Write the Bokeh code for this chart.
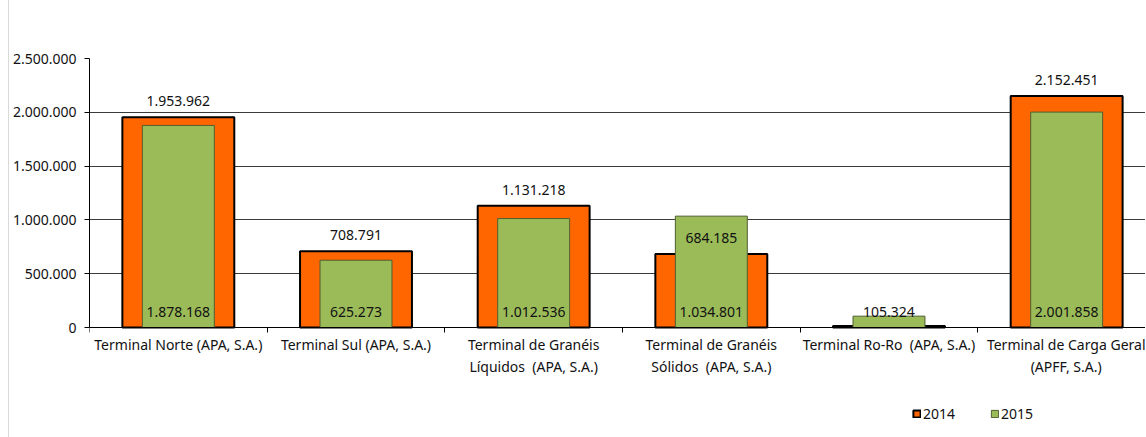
from bokeh.plotting import figure
from bokeh.models import (ColumnDataSource, Range1d, FixedTicker, LabelSet,
                          Legend, LegendItem)
from bokeh.core.properties import value
from bokeh.embed import file_html
from bokeh.resources import INLINE

categories = [
    "Terminal Norte (APA, S.A.)",
    "Terminal Sul (APA, S.A.)",
    "Terminal de Granéis\nLíquidos\u00a0 (APA, S.A.)",
    "Terminal de Granéis\nSólidos\u00a0 (APA, S.A.)",
    "Terminal Ro-Ro\u00a0 (APA, S.A.)",
    "Terminal de Carga Geral\n(APFF, S.A.)",
]
values_2014 = [1953962, 708791, 1131218, 684185, 15000, 2152451]
values_2015 = [1878168, 625273, 1012536, 1034801, 105324, 2001858]
y_ticks = [0, 500000, 1000000, 1500000, 2000000, 2500000]
series_names = ["2014", "2015"]

FONT = "Noto Sans"
ORANGE = "#FF6600"
GREEN = "#9BBB59"
TXT = "#111111"

# layout (pixels)
W, H = 1137, 437
LEFT, TOP = 78, 58
PLOT_H = 269          # pixels from value 0 up to the top tick
CAT_PX = 178          # pixels per category


def fmt(v):
    return f"{v:,}".replace(",", ".")


y_max = y_ticks[-1]
y_min = -y_max * (H - TOP - PLOT_H) / PLOT_H
x_end = (W - LEFT) / CAT_PX

xs = [i + 0.5 for i in range(len(categories))]
src = ColumnDataSource(dict(x=xs, v14=values_2014, v15=values_2015))
keep = [v >= 50000 for v in values_2014]
lab14 = ColumnDataSource(dict(
    x=[x for x, k in zip(xs, keep) if k],
    y=[v for v, k in zip(values_2014, keep) if k],
    t=[fmt(v) for v, k in zip(values_2014, keep) if k],
))
lab15 = ColumnDataSource(dict(
    x=xs,
    y=[0] * len(xs),
    t=[fmt(v) for v in values_2015],
))

p = figure(width=W, height=H, output_backend="svg", toolbar_location=None,
           x_range=Range1d(0, x_end), y_range=Range1d(y_min, y_max),
           min_border_left=LEFT, min_border_right=0, min_border_top=TOP,
           min_border_bottom=0)
p.outline_line_color = None
p.background_fill_color = "white"
p.border_fill_color = "white"

r14 = p.vbar(x="x", top="v14", width=0.63, source=src, fill_color=ORANGE,
             line_color="black", line_width=2)
r15 = p.vbar(x="x", top="v15", width=0.405, source=src, fill_color=GREEN,
             line_color="#4f5f30", line_width=1)

common = dict(text_font=value(FONT), text_font_size="14px", text_color=TXT,
              text_align="center", text_baseline="alphabetic")
p.add_layout(LabelSet(x="x", y="y", text="t", source=lab14, y_offset=11, **common))
p.add_layout(LabelSet(x="x", y="y", text="t", source=lab15, y_offset=11, **common))

# x axis drawn at value 0
p.xaxis.fixed_location = 0
p.xaxis.ticker = FixedTicker(ticks=xs, minor_ticks=list(range(len(categories) + 1)))
p.xaxis.major_label_overrides = {x: c for x, c in zip(xs, categories)}
p.xaxis.major_tick_out = 0
p.xaxis.major_tick_in = 0
p.xaxis.minor_tick_out = 5
p.xaxis.minor_tick_in = 0
p.xaxis.minor_tick_line_color = "black"
p.xaxis.axis_line_color = "black"
p.xaxis.major_label_text_font = FONT
p.xaxis.major_label_text_font_size = "14px"
p.xaxis.major_label_text_color = TXT
p.xaxis.major_label_standoff = 2

p.yaxis.ticker = FixedTicker(ticks=y_ticks)
p.yaxis.bounds = (0, y_max)
p.yaxis.major_label_overrides = {t: fmt(t) for t in y_ticks}
p.yaxis.major_tick_out = 5
p.yaxis.major_tick_in = 0
p.yaxis.minor_tick_line_color = None
p.yaxis.axis_line_color = "black"
p.yaxis.major_tick_line_color = "black"
p.yaxis.major_label_text_font = FONT
p.yaxis.major_label_text_font_size = "14px"
p.yaxis.major_label_text_color = TXT
p.yaxis.major_label_standoff = 8

p.xgrid.grid_line_color = None
p.ygrid.grid_line_color = "#3a3a3a"
p.ygrid.grid_line_width = 1

legend = Legend(items=[LegendItem(label=series_names[0], renderers=[r14]),
                       LegendItem(label=series_names[1], renderers=[r15])],
                orientation="horizontal", location=(823, 14),
                glyph_width=9, glyph_height=9, label_standoff=2, spacing=35,
                padding=0, margin=0, border_line_color=None,
                background_fill_alpha=0,
                label_text_font=FONT, label_text_font_size="14px",
                label_text_color=TXT)
p.add_layout(legend)

p.styles = {"border-left": "1px solid #d9d9d9", "margin-left": "8px"}

open("out.html", "w").write(file_html(p, INLINE))
